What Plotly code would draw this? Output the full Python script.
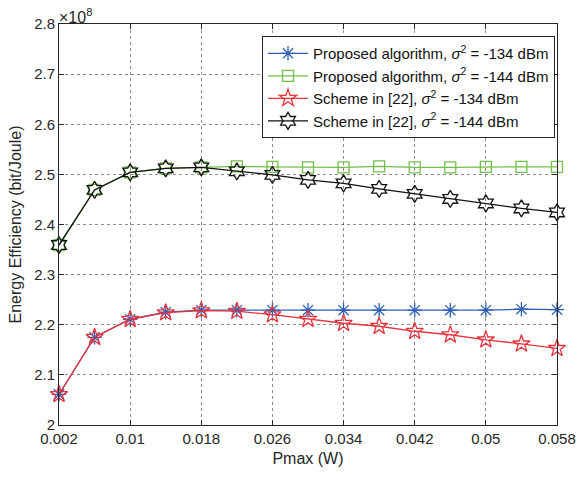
import plotly.graph_objects as go

# Data (energy efficiency in units of 1e8 bit/Joule)
pmax = [0.002, 0.006, 0.010, 0.014, 0.018, 0.022, 0.026, 0.030,
        0.034, 0.038, 0.042, 0.046, 0.050, 0.054, 0.058]
prop_134 = [2.061, 2.175, 2.211, 2.225, 2.229, 2.229, 2.229, 2.229,
            2.229, 2.229, 2.229, 2.229, 2.229, 2.231, 2.230]
prop_144 = [2.359, 2.469, 2.504, 2.512, 2.514, 2.516, 2.515, 2.514,
            2.514, 2.516, 2.514, 2.514, 2.515, 2.515, 2.515]
ref_134 = [2.061, 2.175, 2.211, 2.224, 2.228, 2.227, 2.220, 2.211,
           2.203, 2.197, 2.187, 2.180, 2.170, 2.162, 2.153]
ref_144 = [2.359, 2.469, 2.504, 2.512, 2.514, 2.506, 2.499, 2.489,
           2.482, 2.471, 2.461, 2.451, 2.442, 2.432, 2.424]

x_ticks = [0.002, 0.010, 0.018, 0.026, 0.034, 0.042, 0.050, 0.058]
x_tick_labels = ["0.002", "0.01", "0.018", "0.026", "0.034", "0.042", "0.05", "0.058"]
y_ticks = [2.0, 2.1, 2.2, 2.3, 2.4, 2.5, 2.6, 2.7, 2.8]
y_tick_labels = ["2", "2.1", "2.2", "2.3", "2.4", "2.5", "2.6", "2.7", "2.8"]

names = [
    "Proposed algorithm, <i>σ</i><sup>2</sup> = -134 dBm",
    "Proposed algorithm, <i>σ</i><sup>2</sup> = -144 dBm",
    "Scheme in [22], <i>σ</i><sup>2</sup> = -134 dBm",
    "Scheme in [22], <i>σ</i><sup>2</sup> = -144 dBm",
]
series = [prop_134, prop_144, ref_134, ref_144]
colors = ["#2f5fb5", "#72c04a", "#e8323c", "#111111"]
symbols = ["asterisk-open", "square-open", "star-open", "hexagram-open"]
sizes = [12, 11, 13, 13]

fig = go.Figure()
for nm, ys, c, s, sz in zip(names, series, colors, symbols, sizes):
    fig.add_trace(go.Scatter(
        x=pmax, y=ys, name=nm, mode="lines+markers",
        line=dict(color=c, width=1.3),
        marker=dict(symbol=s, size=sz, color=c, line=dict(color=c, width=1.3)),
        cliponaxis=False,
    ))

axis_common = dict(
    showline=True, linecolor="#262626", linewidth=1, mirror="ticks",
    ticks="inside", ticklen=5, tickcolor="#262626",
    showgrid=True, gridcolor="rgba(0,0,0,0.45)", griddash="dot", gridwidth=1,
    zeroline=False, automargin=False,
    tickfont=dict(size=15, color="#262626"),
)

fig.update_layout(
    width=576, height=479,
    margin=dict(l=59, r=19, t=24, b=54),
    paper_bgcolor="white", plot_bgcolor="white",
    font=dict(family="Liberation Sans, Arial, sans-serif", color="#262626"),
    xaxis=dict(range=[0.002, 0.058], tickvals=x_ticks, ticktext=x_tick_labels,
               title=dict(text="Pmax (W)", font=dict(size=16), standoff=6),
               **axis_common),
    yaxis=dict(range=[2.0, 2.8], tickvals=y_ticks, ticktext=y_tick_labels,
               title=dict(text="Energy Efficiency (bit/Joule)", font=dict(size=16), standoff=8),
               **axis_common),
    legend=dict(x=0.996, xanchor="right", y=0.97, yanchor="top",
                bgcolor="white", bordercolor="#262626", borderwidth=1,
                font=dict(size=15, color="#111111"), tracegroupgap=0,
                itemwidth=40),
    showlegend=True,
)
fig.add_annotation(xref="paper", yref="paper", x=0.0, y=1.0, xanchor="left", yanchor="bottom",
                   text="×10<sup>8</sup>", showarrow=False, font=dict(size=16, color="#262626"),
                   xshift=-2, yshift=-4)

fig.write_html("out.html")
